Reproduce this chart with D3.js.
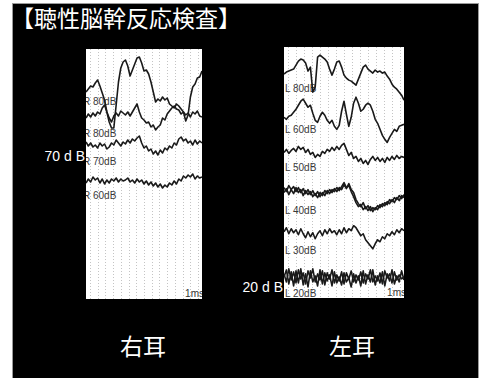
<!DOCTYPE html>
<html>
<head>
<meta charset="utf-8">
<script src="https://cdn.jsdelivr.net/npm/d3@7"></script>
<style>
  html, body { margin: 0; padding: 0; background: #fff; }
  svg { display: block; }
</style>
</head>
<body>
<svg id="chart" width="481" height="378"></svg>
<script>
// sample times (ms) shared by every trace
const sampleMs = [0, 0.3, 0.6, 0.9, 1.2, 1.5, 1.8, 2.1, 2.4, 2.7, 3, 3.3, 3.6, 3.9, 4.2, 4.5, 4.8, 5.1, 5.4, 5.7,
  6, 6.3, 6.6, 6.9, 7.2, 7.5, 7.8, 8.1, 8.4, 8.7, 9, 9.3, 9.6, 9.9, 10.2, 10.5, 10.8, 11.1, 11.4, 11.7,
  12, 12.3, 12.6, 12.9, 13.2, 13.5, 13.8, 14.1, 14.4, 14.7, 15];
const gridMs = [0.5, 1.5, 2.5, 3.5, 4.5, 5.5, 6.5, 7.5, 8.5, 9.5, 10.5, 11.5, 12.5, 13.5, 14.5];

const titleText = '【聴性脳幹反応検査】';
const panelNames = ['右耳', '左耳'];
const thresholdLabels = ['70 d B', '20 d B'];

// right ear traces (stacked level, arbitrary units)
const r80a = [20.7, 21.0, 21.3, 21.2, 21.6, 21.9, 21.3, 20.6, 19.9, 18.7, 17.7, 17.1, 17.1, 19.4, 21.7, 23.1, 23.7, 23.9, 23.3, 22.3,
  22.9, 23.5, 24.1, 24.2, 23.6, 22.8, 22.9, 22.5, 21.7, 20.7, 19.7, 20.0, 19.8, 20.2, 19.9, 20.1, 19.5, 19.3, 19.1, 19.5,
  19.3, 19.0, 18.7, 17.8, 18.4, 20.2, 21.2, 21.5, 22.1, 22.2, 22.8];
const r80b = [18.1, 18.5, 18.2, 18.6, 18.3, 18.7, 18.5, 19.1, 19.4, 18.7, 18.1, 17.7, 18.3, 18.6, 18.3, 18.8, 18.6, 18.4, 18.7, 18.3,
  18.7, 19.1, 19.5, 18.7, 18.1, 17.9, 17.6, 17.7, 17.2, 17.4, 16.9, 17.2, 17.4, 18.1, 17.9, 18.5, 18.8, 19.1, 19.3, 19.0,
  18.9, 18.5, 18.7, 18.4, 18.6, 18.2, 18.7, 18.5, 18.8, 18.3, 18.2];
const r70 = [15.7, 15.3, 15.6, 15.2, 15.4, 15.1, 15.6, 15.3, 15.5, 15.0, 15.2, 15.6, 15.4, 15.9, 15.6, 15.3, 15.7, 15.5, 15.9, 15.6,
  16.0, 15.8, 16.1, 16.3, 15.6, 15.1, 15.3, 14.8, 15.0, 14.5, 14.8, 14.4, 14.9, 14.6, 15.1, 14.9, 15.3, 15.1, 15.6, 15.4,
  16.0, 16.2, 15.8, 16.0, 15.6, 15.8, 15.4, 15.9, 15.5, 15.8, 15.6];
const r60 = [11.6, 12.0, 11.7, 12.2, 11.9, 12.1, 11.6, 12.0, 11.5, 11.9, 11.6, 12.0, 11.8, 12.1, 11.7, 12.0, 11.8, 11.9, 12.1, 11.7,
  11.9, 11.6, 12.0, 11.7, 11.9, 11.5, 11.8, 11.4, 11.7, 11.3, 11.6, 11.2, 11.5, 11.1, 11.4, 11.2, 11.6, 11.4, 11.8, 11.5,
  12.0, 11.8, 12.3, 12.1, 12.4, 12.2, 12.5, 12.0, 12.3, 12.1, 12.2];

// left ear traces
const l80 = [22.3, 22.5, 22.6, 22.7, 22.8, 23.2, 23.6, 23.8, 23.7, 23.4, 22.6, 23.0, 20.5, 21.0, 24.0, 24.2, 24.0, 23.8, 23.5, 22.8,
  22.2, 22.8, 23.5, 23.6, 23.0, 22.2, 21.9, 21.7, 21.6, 21.4, 21.2, 21.8, 22.4, 23.0, 23.2, 22.8, 22.6, 22.4, 22.7, 22.5,
  22.6, 22.4, 22.5, 22.1, 21.8, 21.3, 21.0, 20.8, 20.5, 20.2, 19.7];
const l60 = [18.0, 17.8, 18.1, 18.2, 18.5, 18.8, 19.2, 19.6, 19.8, 19.4, 19.0, 19.2, 18.4, 17.7, 17.5, 18.1, 18.5, 18.2, 17.7, 17.4,
  17.7, 17.1, 16.8, 17.2, 18.6, 19.6, 18.3, 17.1, 18.0, 19.4, 20.0, 19.4, 18.6, 18.8, 19.2, 19.4, 19.2, 18.6, 17.8, 17.4,
  16.8, 16.2, 15.8, 15.5, 16.0, 16.4, 16.8, 16.6, 17.1, 17.2, 17.3];
const l50 = [14.5, 14.8, 14.4, 14.7, 14.9, 14.6, 15.1, 14.8, 15.0, 14.5, 14.8, 14.3, 14.5, 14.0, 14.3, 14.1, 14.6, 14.4, 14.8, 14.6,
  15.0, 14.7, 15.1, 14.8, 15.2, 15.4, 14.8, 14.2, 14.5, 13.9, 14.1, 13.6, 13.9, 13.4, 13.7, 13.3, 13.8, 14.1, 13.7, 14.0,
  13.6, 13.9, 13.5, 14.0, 13.7, 14.1, 13.8, 14.2, 13.9, 14.1, 14.0];
const l40a = [10.5, 10.9, 10.3, 10.8, 10.4, 11.0, 10.5, 10.8, 10.2, 10.7, 10.3, 10.6, 10.1, 10.4, 10.0, 10.5, 10.2, 10.7, 10.4, 10.8,
  10.5, 10.9, 10.6, 11.0, 10.8, 11.3, 10.9, 11.4, 10.8, 10.5, 9.8, 9.4, 9.1, 9.5, 8.9, 9.2, 8.7, 9.0, 8.8, 9.2,
  9.0, 9.4, 9.2, 9.6, 9.4, 9.8, 9.5, 10.0, 9.7, 10.2, 10.0];
const l40b = [11.0, 10.6, 11.2, 10.8, 11.1, 10.6, 11.0, 10.5, 10.9, 10.4, 10.8, 10.3, 10.7, 10.2, 10.6, 10.1, 10.5, 10.2, 10.7, 10.4,
  10.8, 10.6, 11.0, 10.7, 11.1, 11.5, 11.0, 11.2, 10.6, 10.1, 9.5, 9.1, 9.3, 8.8, 9.1, 8.7, 9.1, 8.6, 9.0, 8.8,
  9.3, 9.1, 9.5, 9.3, 9.8, 9.6, 10.0, 9.8, 10.2, 9.9, 10.3];
const l30 = [6.6, 7.0, 6.4, 6.9, 6.5, 6.8, 6.3, 6.9, 6.4, 6.0, 6.6, 6.1, 6.5, 5.9, 6.4, 6.7, 6.2, 6.8, 6.4, 6.9,
  6.5, 6.7, 6.3, 6.8, 6.4, 7.0, 6.5, 6.9, 6.7, 7.2, 7.0, 6.6, 6.2, 6.4, 5.8, 5.5, 5.2, 4.9, 5.4, 5.8,
  5.6, 6.1, 5.9, 6.4, 6.2, 6.6, 6.3, 6.8, 6.5, 6.9, 6.7];
const l20a = [2.1, 2.8, 1.4, 2.6, 1.2, 2.7, 1.5, 2.9, 1.3, 2.4, 1.1, 2.7, 1.6, 2.2, 1.2, 2.8, 1.4, 2.5, 1.7, 2.3,
  1.2, 2.6, 1.5, 2.1, 1.3, 2.5, 1.6, 2.0, 1.1, 2.4, 1.5, 2.2, 1.2, 2.7, 1.4, 2.3, 1.6, 2.8, 1.3, 2.2,
  1.5, 2.6, 1.2, 2.4, 1.7, 2.8, 1.4, 2.2, 1.6, 2.7, 1.8];
const l20b = [2.4, 1.6, 2.9, 1.8, 2.6, 1.5, 2.8, 1.9, 2.5, 1.4, 2.7, 2.0, 2.9, 1.6, 2.4, 1.8, 2.7, 1.3, 2.5, 1.9,
  2.8, 1.5, 2.3, 1.7, 2.6, 1.4, 2.5, 1.9, 2.7, 1.6, 2.3, 1.8, 2.6, 1.5, 2.4, 1.9, 2.8, 1.6, 2.2, 1.7,
  2.5, 1.4, 2.7, 2.0, 2.4, 1.5, 2.6, 1.8, 2.3, 1.9, 2.1];

const rightEarLabels = ['R 80dB', 'R 80dB', 'R 70dB', 'R 60dB'];
const rightEarLabelPos = [19.8, 16.6, 13.8, 10.4];
const leftEarLabels = ['L 80dB', 'L 60dB', 'L 50dB', 'L 40dB', 'L 30dB', 'L 20dB'];
const leftEarLabelPos = [20.9, 16.8, 13.0, 8.7, 4.7, 0.4];

const panels = [
  { id: 'right', name: panelNames[0], box: { left: 86, top: 49, right: 202, bottom: 299 },
    traces: [r80a, r80b, r70, r60], labels: rightEarLabels, labelPos: rightEarLabelPos, labelDx: -3,
    thr: thresholdLabels[0], thrPos: 14.3 },
  { id: 'left', name: panelNames[1], box: { left: 284, top: 47, right: 404, bottom: 298 },
    traces: [l80, l60, l50, l40a, l40b, l30, l20a, l20b], labels: leftEarLabels, labelPos: leftEarLabelPos, labelDx: 1,
    thr: thresholdLabels[1], thrPos: 1.1 }
];

const svg = d3.select('#chart');
const font = '"Liberation Sans", Arial, sans-serif';
const cjk = '"Noto Sans CJK JP", "Noto Sans", sans-serif';

svg.append('rect')
  .attr('x', 12.5).attr('y', 3.5)
  .attr('width', 466).attr('height', 376)
  .attr('fill', '#000')
  .attr('stroke', '#9a9a9a');

svg.append('text')
  .attr('x', 11).attr('y', 26.5)
  .attr('fill', '#fff')
  .style('font-family', cjk)
  .style('font-size', '23px')
  .text(titleText);

panels.forEach((p) => {
  const b = p.box;
  const x = d3.scaleLinear().domain([0, 15]).range([b.left, b.right]);
  const y = d3.scaleLinear().domain([0, 25]).range([b.bottom, b.top]);

  const g = svg.append('g');
  g.append('defs').append('clipPath')
    .attr('id', 'clip-' + p.id)
    .append('rect')
    .attr('x', b.left).attr('y', b.top)
    .attr('width', b.right - b.left).attr('height', b.bottom - b.top);

  g.append('rect')
    .attr('x', b.left).attr('y', b.top)
    .attr('width', b.right - b.left).attr('height', b.bottom - b.top)
    .attr('fill', '#fff');

  g.append('g')
    .selectAll('line')
    .data(gridMs)
    .enter().append('line')
    .attr('x1', (d) => Math.round(x(d)) + 0.5)
    .attr('x2', (d) => Math.round(x(d)) + 0.5)
    .attr('y1', b.top).attr('y2', b.bottom)
    .attr('stroke', '#c4c4c4')
    .attr('stroke-width', 1)
    .attr('stroke-dasharray', '1,2');

  const plot = g.append('g').attr('clip-path', 'url(#clip-' + p.id + ')');

  plot.selectAll('text.lvl')
    .data(p.labels)
    .enter().append('text')
    .attr('class', 'lvl')
    .attr('x', b.left + p.labelDx)
    .attr('y', (d, i) => y(p.labelPos[i]))
    .attr('dy', '0.35em')
    .attr('fill', '#3a3a3a')
    .style('font-family', font)
    .style('font-size', '10px')
    .text((d) => d);

  plot.append('text')
    .attr('x', b.right + 2)
    .attr('y', b.bottom - 2)
    .attr('text-anchor', 'end')
    .attr('fill', '#333')
    .style('font-family', font)
    .style('font-size', '10px')
    .text('1ms');

  const line = d3.line()
    .x((d, i) => x(sampleMs[i]))
    .y((d) => y(d));

  plot.selectAll('path.trace')
    .data(p.traces)
    .enter().append('path')
    .attr('class', 'trace')
    .attr('d', (d) => line(d))
    .attr('fill', 'none')
    .attr('stroke', '#1a1a1a')
    .attr('stroke-width', 1.6)
    .attr('stroke-linejoin', 'round');

  svg.append('text')
    .attr('x', b.left - 1)
    .attr('y', y(p.thrPos))
    .attr('dy', '0.35em')
    .attr('text-anchor', 'end')
    .attr('fill', '#fff')
    .style('font-family', font)
    .style('font-size', '14px')
    .text(p.thr);

  svg.append('text')
    .attr('x', (b.left + b.right) / 2 + (p.id === 'right' ? -1 : 8))
    .attr('y', 355)
    .attr('text-anchor', 'middle')
    .attr('fill', '#fff')
    .style('font-family', cjk)
    .style('font-size', '23px')
    .text(p.name);
});
</script>
</body>
</html>
